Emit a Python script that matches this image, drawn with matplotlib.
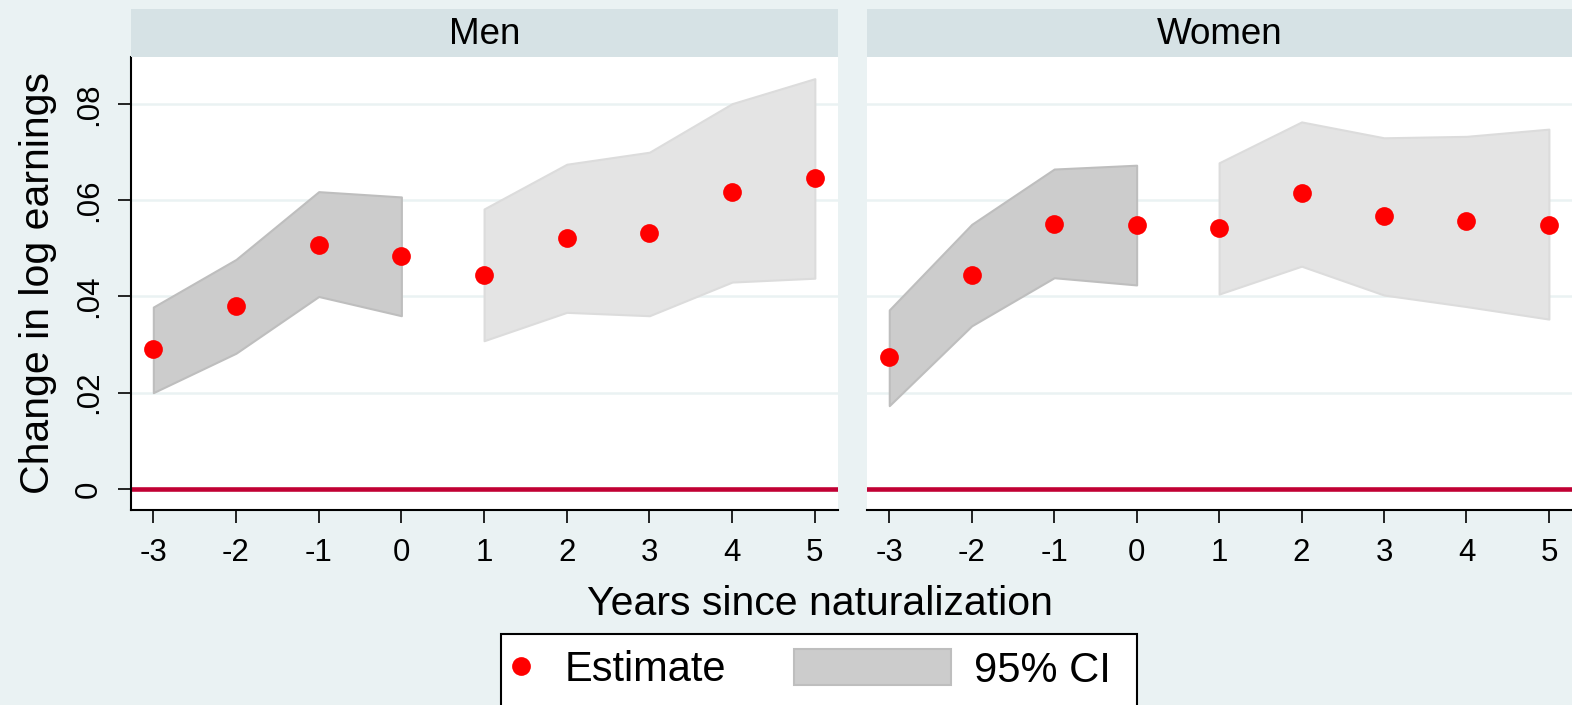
import matplotlib
matplotlib.use("Agg")
import matplotlib.pyplot as plt
from matplotlib.lines import Line2D
from matplotlib.patches import Patch, Rectangle

plt.rcParams['font.family'] = ['Liberation Sans', 'DejaVu Sans']

years = [-3, -2, -1, 0, 1, 2, 3, 4, 5]
men_est = [0.0290, 0.0380, 0.0508, 0.0484, 0.0445, 0.0522, 0.0531, 0.0617, 0.0647]
men_lo = [0.0200, 0.0282, 0.0400, 0.0360, 0.0308, 0.0367, 0.0360, 0.0430, 0.0438]
men_hi = [0.0378, 0.0477, 0.0618, 0.0607, 0.0582, 0.0675, 0.0700, 0.0801, 0.0853]
women_est = [0.0274, 0.0445, 0.0551, 0.0549, 0.0542, 0.0616, 0.0568, 0.0558, 0.0549]
women_lo = [0.0173, 0.0339, 0.0439, 0.0424, 0.0405, 0.0463, 0.0403, 0.0379, 0.0353]
women_hi = [0.0372, 0.0550, 0.0665, 0.0673, 0.0678, 0.0763, 0.0730, 0.0733, 0.0748]
panels = ["Men", "Women"]
yticks = [0, 0.02, 0.04, 0.06, 0.08]
ytick_labels = ["0", ".02", ".04", ".06", ".08"]

BG = "#EAF2F3"
HEAD = "#D6E2E5"
W, H = 1572, 705

fig = plt.figure(figsize=(W / 100, H / 100), dpi=100, facecolor=BG)

def fx(px):
    return px / W

def fy(py):
    return 1 - py / H

panel_px = [(131, 838), (867, 1572)]
top, bottom = 57, 510

series = [(men_est, men_lo, men_hi), (women_est, women_lo, women_hi)]

for k, (name, (x0, x1), (est, lo, hi)) in enumerate(zip(panels, panel_px, series)):
    ax = fig.add_axes([fx(x0), fy(bottom), fx(x1 - x0), (bottom - top) / H])
    ax.set_facecolor("white")
    ax.set_xlim(-3.27, 5.28)
    ax.set_ylim(-0.0044, 0.0898)

    for yv in yticks[1:]:
        ax.axhline(yv, color=BG, lw=1.8, zorder=0)
    ax.axhline(0, color="#C10034", lw=3.3, zorder=1)

    ax.fill_between(years[:4], lo[:4], hi[:4], facecolor="#CCCCCC",
                    edgecolor="#BEBEBE", lw=1.5, zorder=2)
    ax.fill_between(years[4:], lo[4:], hi[4:], facecolor="#E4E4E4",
                    edgecolor="#DCDCDC", lw=1.5, zorder=2)
    ax.plot(years, est, "o", color="#FF0000", ms=13.5, mec="none", zorder=3)

    for s in ["top", "right"]:
        ax.spines[s].set_visible(False)
    ax.spines["bottom"].set_linewidth(1.5)
    ax.set_xticks(years)
    ax.set_xticklabels([str(y) for y in years])
    ax.tick_params(axis="x", length=9.4, width=1.2, labelsize=22.5, pad=11)
    if k == 0:
        ax.spines["left"].set_linewidth(1.5)
        ax.set_yticks(yticks)
        ax.set_yticklabels(ytick_labels, rotation=90, va="center")
        ax.tick_params(axis="y", length=9.4, width=1.2, labelsize=22.5, pad=10)
        ax.set_ylabel("Change in log earnings", fontsize=29.5, labelpad=12)
    else:
        ax.spines["left"].set_visible(False)
        ax.set_yticks([])

    hax = fig.add_axes([fx(x0), fy(57), fx(x1 - x0), 48 / H])
    hax.set_facecolor(HEAD)
    hax.set_xticks([])
    hax.set_yticks([])
    for s in hax.spines.values():
        s.set_visible(False)
    hax.text(0.5, 0.47, name, ha="center", va="center", fontsize=26.5,
             transform=hax.transAxes)

fig.text(fx(820), fy(615), "Years since naturalization", ha="center",
         va="baseline", fontsize=29.5)

# legend frame + two entries
fig.patches.append(Rectangle((fx(501), fy(712)), fx(1137 - 501), (712 - 634) / H,
                             transform=fig.transFigure, facecolor="white",
                             edgecolor="black", lw=1.5, zorder=0))
dot = Line2D([], [], marker="o", color="#FF0000", ms=13.5, mec="none", ls="none")
ci = Patch(facecolor="#CCCCCC", edgecolor="#BEBEBE", lw=1.5)
fig.legend([dot], ["Estimate"], loc="center left",
           bbox_to_anchor=(fx(504), fy(670)), frameon=False, fontsize=30,
           handlelength=0.8, handletextpad=0.65, borderpad=0, borderaxespad=0)
fig.legend([ci], ["95% CI"], loc="center left",
           bbox_to_anchor=(fx(794), fy(670)), frameon=False, fontsize=30,
           handlelength=3.77, handleheight=0.94, handletextpad=0.55,
           borderpad=0, borderaxespad=0)

fig.savefig("out.png", dpi=100, facecolor=BG)
